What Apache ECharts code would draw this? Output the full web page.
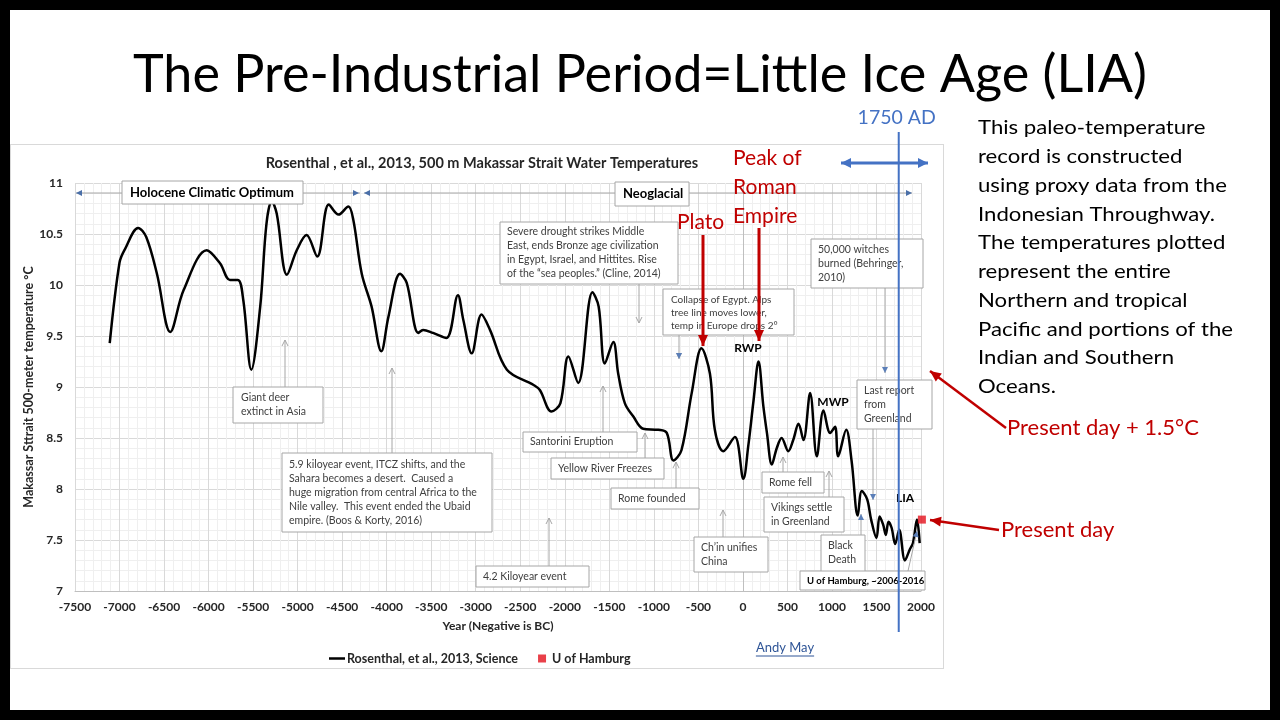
<!DOCTYPE html>
<html>
<head>
<meta charset="utf-8">
<script src="https://cdn.jsdelivr.net/npm/echarts@6/dist/echarts.min.js"></script>
<style>
html,body{margin:0;padding:0;background:#000;width:1280px;height:720px;overflow:hidden;}
#slide{position:absolute;left:10px;top:10px;width:1260px;height:700px;background:#fff;}
#chartbox{position:absolute;left:10px;top:144px;width:932px;height:523px;background:#fff;border:1px solid #d9d9d9;}
#c{position:absolute;left:0;top:0;width:1280px;height:720px;}
</style>
</head>
<body>
<div id="slide"></div>
<div id="chartbox"></div>
<div id="c"></div>
<script>
// ---- data ----
const years = [-7110,-7000,-6940,-6790,-6700,-6580,-6430,-6280,-6020,-5870,
  -5760,-5670,-5610,-5520,-5420,-5350,-5290,-5235,-5120,-5010,
  -4900,-4780,-4650,-4540,-4430,-4375,-4280,-4170,-4060,-3980,
  -3850,-3775,-3645,-3590,-3480,-3330,-3200,-3140,-3045,-2935,
  -2840,-2650,-2350,-2280,-2150,-2050,-1960,-1850,-1690,-1620,
  -1550,-1455,-1400,-1325,-1230,-1120,-950,-855,-780,-690,
  -575,-465,-370,-315,-220,-90,5,60,120,175,
  230,270,325,380,435,510,565,625,680,755,
  830,905,980,1035,1070,1160,1220,1290,1335,1395,
  1440,1500,1535,1575,1605,1635,1670,1710,1755,1820,
  1875,1910,1955,1985];
const temps = [9.43,10.22,10.35,10.56,10.47,10.11,9.54,9.95,10.34,10.21,
  10.05,10.05,9.85,9.17,9.79,10.60,10.82,10.70,10.10,10.34,
  10.49,10.28,10.79,10.69,10.77,10.64,10.11,9.79,9.35,9.69,
  10.11,10.02,9.53,9.56,9.53,9.48,9.90,9.66,9.33,9.71,
  9.56,9.17,9.02,8.97,8.76,8.84,9.30,9.04,9.93,9.79,
  9.23,9.44,9.13,8.84,8.71,8.59,8.58,8.55,8.28,8.38,
  8.94,9.38,9.13,8.58,8.37,8.51,8.10,8.42,8.87,9.25,
  8.81,8.55,8.24,8.40,8.50,8.37,8.48,8.64,8.48,8.94,
  8.32,8.77,8.55,8.61,8.32,8.58,8.28,7.74,7.98,7.90,
  7.70,7.52,7.73,7.65,7.55,7.68,7.62,7.46,7.60,7.30,
  7.41,7.47,7.70,7.47];
const hamburgYears = [2010];
const hamburgTemps = [7.70];
const seriesNames = ['Rosenthal, et al., 2013, Science', 'U of Hamburg'];
const markerYear = 1750;

const FONT = 'Lato';
const chart = echarts.init(document.getElementById('c'), null, {renderer: 'canvas'});

const option = {
  backgroundColor: 'transparent',
  animation: false,
  title: {
    text: 'Rosenthal , et al., 2013, 500 m Makassar Strait Water Temperatures',
    left: 477, top: 151, textAlign: 'center',
    textStyle: {fontFamily: FONT, fontWeight: 'bold', fontSize: 14.5, color: '#262626'}
  },
  grid: {left: 75, right: 359, top: 183, bottom: 129, containLabel: false},
  xAxis: {
    type: 'value', min: -7500, max: 2000, interval: 500,
    name: 'Year (Negative is BC)', nameLocation: 'middle', nameGap: 29, nameMoveOverlap: false,
    nameTextStyle: {fontFamily: FONT, fontWeight: 'bold', fontSize: 12, color: '#262626'},
    axisLine: {show: true, lineStyle: {color: '#bfbfbf'}},
    axisTick: {show: false},
    minorTick: {show: false, splitNumber: 5},
    axisLabel: {fontFamily: FONT, fontWeight: 'bold', fontSize: 12, color: '#262626', margin: 10,
                formatter: v => String(v)},
    splitLine: {show: true, lineStyle: {color: '#d9d9d9'}},
    minorSplitLine: {show: true, lineStyle: {color: '#efefef'}}
  },
  yAxis: {
    type: 'value', min: 7, max: 11, interval: 0.5,
    name: 'Makassar Sttrait 500-meter temperature °C', nameLocation: 'middle', nameGap: 40, nameRotate: 90,
    nameMoveOverlap: false,
    nameTextStyle: {fontFamily: FONT, fontWeight: 'bold', fontSize: 12.5, color: '#262626'},
    axisLine: {show: true, lineStyle: {color: '#bfbfbf'}},
    axisTick: {show: false},
    minorTick: {show: false, splitNumber: 5},
    axisLabel: {fontFamily: FONT, fontWeight: 'bold', fontSize: 12, color: '#262626', margin: 12,
                formatter: v => String(v)},
    splitLine: {show: true, lineStyle: {color: '#d9d9d9'}},
    minorSplitLine: {show: true, lineStyle: {color: '#efefef'}}
  },
  legend: {
    left: 324, top: 647, itemWidth: 16, itemHeight: 8, itemGap: 20,
    textStyle: {fontFamily: FONT, fontWeight: 'bold', fontSize: 12.5, color: '#262626', padding: [0, 0, 0, -3]},
    data: [
      {name: seriesNames[0], icon: 'path://M0,0L16,0L16,2.5L0,2.5Z'},
      {name: seriesNames[1], icon: 'path://M0,0L10,0L10,10L0,10Z'}
    ]
  },
  series: [
    {
      name: seriesNames[0], type: 'line', smooth: 0.35, symbol: 'none',
      lineStyle: {color: '#000', width: 2.5}, itemStyle: {color: '#000'},
      data: years.map((y, i) => [y, temps[i]]), z: 3
    },
    {
      name: seriesNames[1], type: 'scatter', symbol: 'rect', symbolSize: 8, clip: false,
      itemStyle: {color: '#e3101b'},
      data: hamburgYears.map((y, i) => [y, hamburgTemps[i]]), z: 4
    }
  ]
};
chart.setOption(option);

// ---- annotation / slide graphics ----
const G = [];
const ctx = document.createElement('canvas').getContext('2d');
function measure(str, font) { ctx.font = font; return ctx.measureText(str).width; }
function txt(x, y, s, font, fill, align, z, extra) {
  G.push(Object.assign({
    type: 'text', x: x, y: y, z: z || 120,
    style: {text: s, font: font, fill: fill, align: align || 'left', verticalAlign: 'middle',
            textAlign: align || 'left', textVerticalAlign: 'middle'}
  }, extra || {}));
}
function ln(x1, y1, x2, y2, color, w, z) {
  G.push({type: 'line', z: z || 110, shape: {x1, y1, x2, y2}, style: {stroke: color, lineWidth: w}});
}
function head(x1, y1, x2, y2, color, L, W, filled, z) {
  const dx = x2 - x1, dy = y2 - y1, d = Math.hypot(dx, dy), ux = dx / d, uy = dy / d;
  const bx = x2 - ux * L, by = y2 - uy * L;
  const p1 = [bx - uy * W, by + ux * W], p2 = [bx + uy * W, by - ux * W];
  if (filled) {
    G.push({type: 'polygon', z: z || 111, shape: {points: [[x2, y2], p1, p2]}, style: {fill: color}});
  } else {
    G.push({type: 'polyline', z: z || 111, shape: {points: [p1, [x2, y2], p2]}, style: {stroke: color, lineWidth: 1, fill: null}});
  }
}
function arrow(x1, y1, x2, y2, color, w, L, W, filled, z) {
  ln(x1, y1, x2, y2, color, w, z);
  head(x1, y1, x2, y2, color, L, W, filled, z ? z + 1 : undefined);
}
const BOXF = '10.5px ' + FONT;
const BOXC = '#404040';
function box(x1, y1, x2, y2, lines, tx, ty, lh, font, color, align) {
  G.push({type: 'rect', z: 100, shape: {x: x1, y: y1, width: x2 - x1, height: y2 - y1},
          style: {fill: '#fff', stroke: '#a6a6a6', lineWidth: 1}});
  lines.forEach((s, i) => txt(tx, ty + i * lh, s, font || BOXF, color || BOXC, align || 'left', 101));
}

// period arrows
const PER = '#a6a6a6', PERH = '#4a6fa8';
ln(76, 193, 360, 193, PER, 1, 99);
head(100, 193, 76, 193, PERH, 6, 3, true, 99);
head(330, 193, 359, 193, PERH, 6, 3, true, 99);
ln(364, 193, 912, 193, PER, 1, 99);
head(400, 193, 364, 193, PERH, 6, 3, true, 99);
head(880, 193, 912, 193, PERH, 6, 3, true, 99);

box(122, 181, 303, 204, ['Holocene Climatic Optimum'], 130, 192.5, 0, 'bold 13px ' + FONT, '#000');
box(615, 182, 689, 206, ['Neoglacial'], 623, 194, 0, 'bold 13px ' + FONT, '#000');

const GA = '#a6a6a6', BA = '#5b7fb8';
// annotation boxes + pointers
box(233, 387, 323, 423, ['Giant deer', 'extinct in Asia'], 241, 398, 14);
arrow(285, 387, 285, 340, GA, 1, 6, 3, false);
box(282, 453, 492, 532, ['5.9 kiloyear event, ITCZ shifts, and the', 'Sahara becomes a desert.  Caused a',
  'huge migration from central Africa to the', 'Nile valley.  This event ended the Ubaid', 'empire. (Boos & Korty, 2016)'], 289, 464.5, 14);
arrow(392, 453, 392, 368, GA, 1, 6, 3, false);
box(500, 222, 678, 284, ['Severe drought strikes Middle', 'East, ends Bronze age civilization',
  'in Egypt, Israel, and Hittites. Rise', 'of the \u201csea peoples.\u201d (Cline, 2014)'], 507, 232, 14);
arrow(639, 284, 639, 323, GA, 1, 6, 3, false);
box(663, 289, 794, 335, ['Collapse of Egypt. Alps', 'tree line moves lower,', 'temp in Europe drops 2\u00b0'], 671, 299.5, 13, '10px ' + FONT);
arrow(679, 335, 679, 359, GA, 1, 6, 3, true);
head(679, 340, 679, 359, BA, 6, 3, true, 112);
box(523, 432, 637, 452, ['Santorini Eruption'], 530, 442, 0);
arrow(603, 432, 603, 386, GA, 1, 6, 3, false);
box(551, 458, 664, 479, ['Yellow River Freezes'], 558, 469, 0);
arrow(645, 458, 645, 433, GA, 1, 6, 3, false);
box(611, 488, 699, 509, ['Rome founded'], 618, 498.5, 0);
arrow(676, 488, 676, 462, GA, 1, 6, 3, false);
box(476, 566, 589, 587, ['4.2 Kiloyear event'], 483, 577, 0);
arrow(549, 566, 549, 518, GA, 1, 6, 3, false);
box(694, 537, 768, 572, ['Ch\u2019in unifies', 'China'], 701, 547.5, 14);
arrow(723, 537, 723, 510, GA, 1, 6, 3, false);
box(762, 472, 824, 493, ['Rome fell'], 769, 482.5, 0);
arrow(783, 472, 783, 457, GA, 1, 6, 3, false);
box(764, 497, 844, 532, ['Vikings settle', 'in Greenland'], 771, 507.5, 14);
arrow(829, 497, 829, 471, GA, 1, 6, 3, false);
box(821, 535, 865, 572, ['Black', 'Death'], 828, 546, 14);
ln(861, 535, 861, 514, GA, 1);
head(861, 530, 861, 514, BA, 6, 3, true, 112);
box(811, 239, 923, 288, ['50,000 witches', 'burned (Behringer,', '2010)'], 818, 250, 14);
ln(885, 288, 885, 373, GA, 1);
head(885, 360, 885, 373, BA, 6, 3, true, 112);
box(857, 380, 932, 429, ['Last report', 'from', 'Greenland'], 864, 391, 14);
ln(873, 429, 873, 500, GA, 1);
head(873, 490, 873, 500, BA, 6, 3, true, 112);
box(800, 571, 925, 590, ['U of Hamburg, ~2006-2016'], 807, 580.5, 0, 'bold 9.5px ' + FONT, '#000');
ln(908, 571, 917, 531, GA, 1, 99);
head(913, 549, 917, 531, BA, 6, 3, true, 99);

// period labels
txt(748, 348, 'RWP', 'bold 12px ' + FONT, '#000', 'center', 105);
txt(833, 402, 'MWP', 'bold 12px ' + FONT, '#000', 'center', 105);
txt(905, 498, 'LIA', 'bold 12px ' + FONT, '#000', 'center', 105);

// slide title
const titleStr = 'The Pre-Industrial Period=Little Ice Age (LIA)';
const titleFont = '52px ' + FONT;
const tScale = 1014 / measure(titleStr, titleFont);
txt(133, 75, titleStr, titleFont, '#000', 'left', 130, {scaleX: tScale, originX: 0, originY: 0});

// right-hand paragraph
const para = ['This paleo-temperature', 'record is constructed', 'using proxy data from the',
  'Indonesian Throughway.', 'The temperatures plotted', 'represent the entire', 'Northern and tropical',
  'Pacific and portions of the', 'Indian and Southern', 'Oceans.'];
const paraFont = '20px ' + FONT;
const pScale = 255 / measure(para[7], paraFont);
para.forEach((s, i) => txt(978, 128 + i * 28.75, s, paraFont, '#000', 'left', 130, {scaleX: pScale, originX: 0, originY: 0}));

// red annotations
const RED = '#c00000';
const redFont = '21px ' + FONT;
txt(733, 158, 'Peak of', redFont, RED, 'left', 130);
txt(733, 187, 'Roman', redFont, RED, 'left', 130);
txt(733, 216, 'Empire', redFont, RED, 'left', 130);
txt(677, 222, 'Plato', redFont, RED, 'left', 130);
arrow(703, 235, 703, 346, RED, 3, 11, 5, true, 125);
arrow(759, 228, 759, 341, RED, 3, 11, 5, true, 125);
txt(1007, 428, 'Present day + 1.5\u00b0C', '22px ' + FONT, RED, 'left', 130);
arrow(1006, 428, 930, 371, RED, 2.5, 11, 5, true, 125);
txt(1001, 530, 'Present day', '22px ' + FONT, RED, 'left', 130);
arrow(999, 530, 930, 520, RED, 2.5, 11, 5, true, 125);

// Andy May link
txt(785, 648, 'Andy May', '13px ' + FONT, '#2f5597', 'center', 130);
const amW = measure('Andy May', '13px ' + FONT);
ln(785 - amW / 2, 656, 785 + amW / 2, 656, '#2f5597', 1, 130);

// 1750 AD marker
const px1750 = chart.convertToPixel({gridIndex: 0}, [markerYear, 7])[0];
const BLUE = '#4472c4';
ln(px1750, 132, px1750, 632, BLUE, 2, 140);
txt(px1750 - 2, 118, '1750 AD', '19.5px ' + FONT, BLUE, 'center', 140);
arrow(884, 163, 841, 163, BLUE, 3, 10, 5, true, 140);
arrow(884, 163, 928, 163, BLUE, 3, 10, 5, true, 140);

chart.setOption({graphic: {elements: G}});
</script>
</body>
</html>
